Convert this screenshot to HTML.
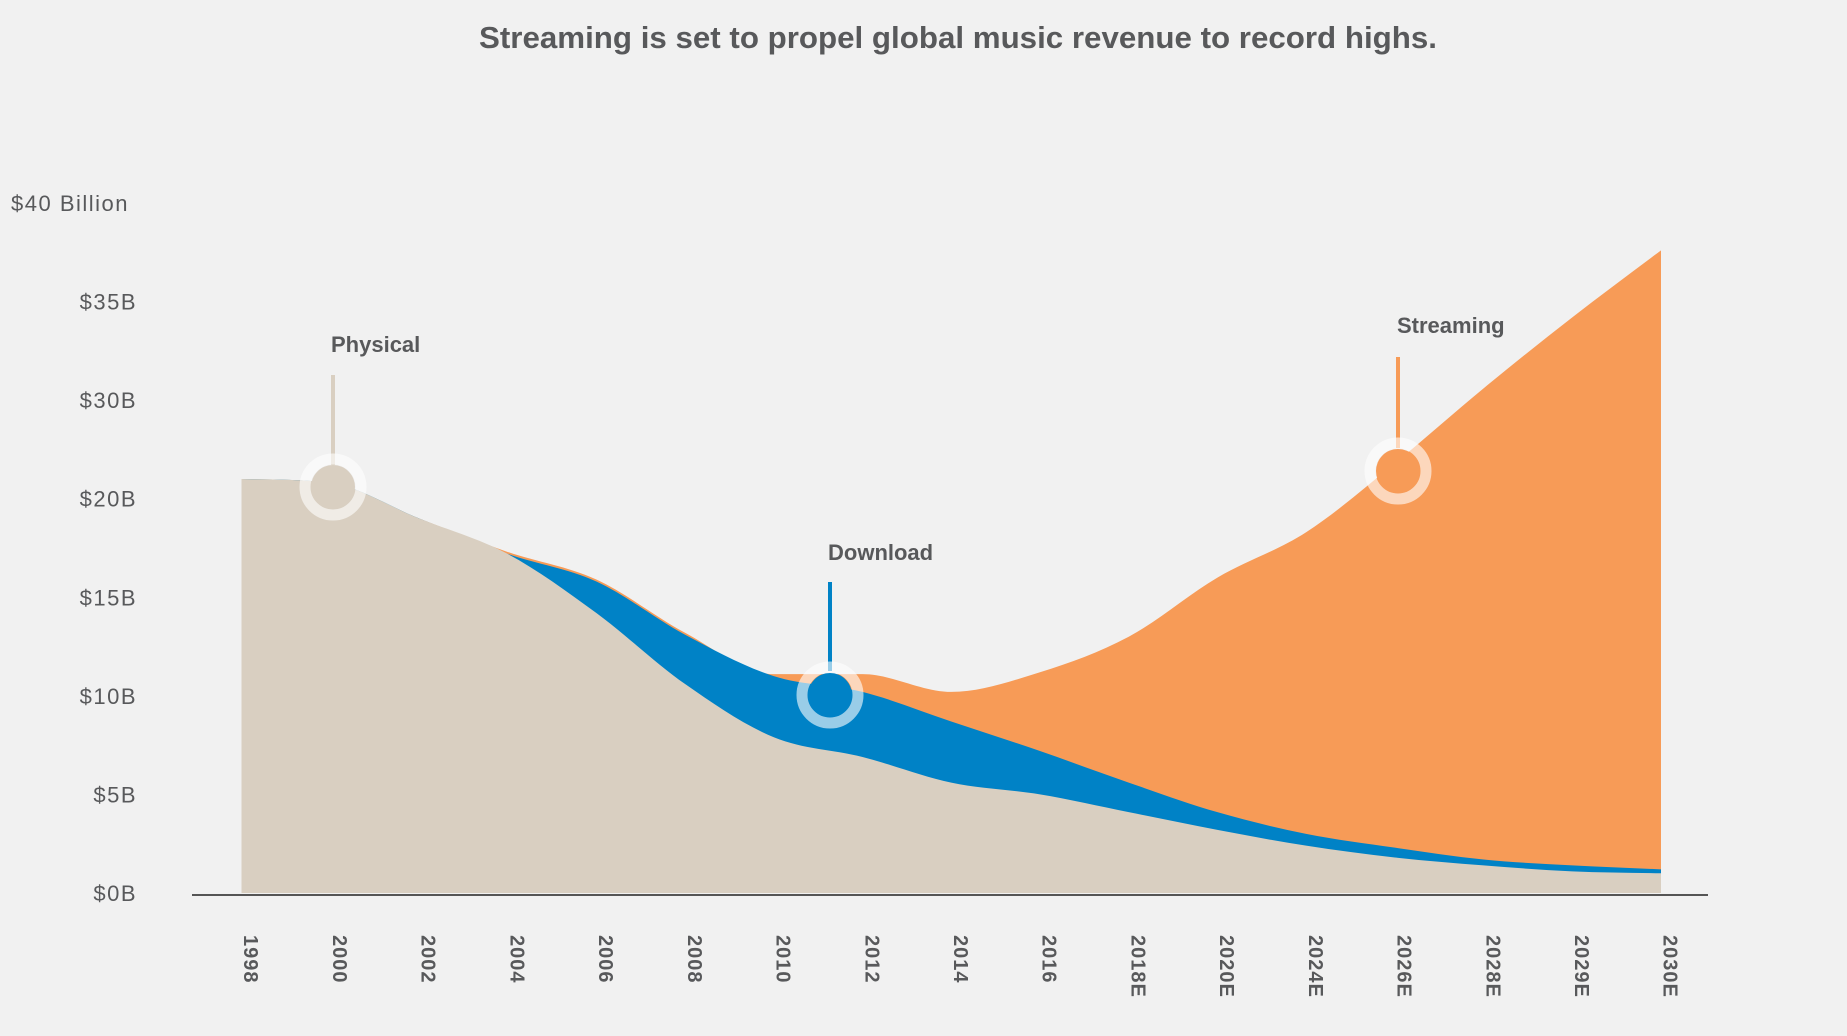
<!DOCTYPE html>
<html><head><meta charset="utf-8"><style>
html,body{margin:0;padding:0;background:#f1f1f1;}
svg{display:block;font-family:"Liberation Sans",sans-serif;}
</style></head><body>
<svg id="chart" width="1847" height="1036" viewBox="0 0 1847 1036">
<rect width="1847" height="1036" fill="#f1f1f1"/>
<text x="958" y="48" text-anchor="middle" font-size="31" font-weight="bold" fill="#58595b" textLength="958" lengthAdjust="spacingAndGlyphs">Streaming is set to propel global music revenue to record highs.</text>
<g id="areas"></g>
<g id="yaxis"></g>
<g id="xaxis"></g>
<g id="annot"></g>
</svg>
<script>
const categories=["1998","2000","2002","2004","2006","2008","2010","2012","2014","2016","2018E","2020E","2024E","2026E","2028E","2029E","2030E"];
const physical=[21.0,20.8,19.0,17.2,14.2,10.6,7.9,6.9,5.6,5.0,4.1,3.2,2.4,1.8,1.4,1.1,1.0];
const download=[0,0,0,0,1.6,2.5,3.1,3.3,3.1,2.2,1.5,0.9,0.6,0.5,0.3,0.3,0.2];
const streaming=[0,0,0,0.1,0.1,0.1,0.1,0.9,1.5,4.0,7.4,11.9,15.3,19.5,23.9,27.8,31.4];
const tickValues=[0,5,10,15,20,25,30,35];
const tickLabels=["$0B","$5B","$10B","$15B","$20B","$30B","$35B","$40 Billion"];

const NS="http://www.w3.org/2000/svg";
const X0=241.5,X1=1661,Y0=893,YTOP=203,VMAX=35;
function x(i){return X0+i*(X1-X0)/(categories.length-1);}
function y(v){return Y0-v*(Y0-YTOP)/VMAX;}
function mk(tag,attrs,parent){const e=document.createElementNS(NS,tag);for(const k in attrs)e.setAttribute(k,attrs[k]);parent.appendChild(e);return e;}
function monotone(px,py){
  const m=px.length,d=[],t=[];
  for(let i=0;i<m-1;i++)d.push((py[i+1]-py[i])/(px[i+1]-px[i]));
  for(let i=0;i<m;i++){
    if(i===0)t.push(d[0]);else if(i===m-1)t.push(d[m-2]);
    else t.push(d[i-1]*d[i]<=0?0:(d[i-1]+d[i])/2);
  }
  for(let i=0;i<m-1;i++){
    if(d[i]===0){t[i]=0;t[i+1]=0;continue;}
    const a=t[i]/d[i],b=t[i+1]/d[i],s=a*a+b*b;
    if(s>9){const k=3/Math.sqrt(s);t[i]=k*a*d[i];t[i+1]=k*b*d[i];}
  }
  let p='';
  for(let i=0;i<m-1;i++){
    const h=(px[i+1]-px[i])/3;
    p+='C'+(px[i]+h)+','+(py[i]+t[i]*h)+' '+(px[i+1]-h)+','+(py[i+1]-t[i+1]*h)+' '+px[i+1]+','+py[i+1];
  }
  return p;
}

const areas=document.getElementById('areas');
const n=categories.length;
const series=[[physical,'#d9cfc1','physical-area'],[download,'#0082c6','download-area'],[streaming,'#f79b57','streaming-area']];
const stacks=[];
let lower=new Array(n).fill(0);
for(const s of series){
  const upper=lower.map((v,i)=>v+s[0][i]);
  stacks.push([upper,s[1],s[2]]);
  lower=upper;
}
const pxs=categories.map((c,i)=>x(i));
for(let k=stacks.length-1;k>=0;k--){
  const [up,col,name]=stacks[k];
  const pys=up.map(v=>y(v));
  let d='M'+pxs[0]+','+pys[0]+monotone(pxs,pys);
  d+='L'+pxs[n-1]+','+y(0)+'L'+pxs[0]+','+y(0)+'Z';
  const p=mk('path',{d:d,fill:col},areas);
  
  
}

const ya=document.getElementById('yaxis');
tickValues.forEach((v,i)=>{
  const t=mk('text',{x:137,y:y(v)+8,'text-anchor':'end','font-size':22,fill:'#58595b','letter-spacing':'1.5'},ya);
  if(i===tickLabels.length-1){t.setAttribute('x',11);t.setAttribute('text-anchor','start');}
  t.textContent=tickLabels[i];
  
  
});

const xa=document.getElementById('xaxis');
const ax=mk('line',{x1:192,x2:1708,y1:895,y2:895,stroke:'#555','stroke-width':2},xa);


categories.forEach((c,i)=>{
  const cx=x(i)+8,cy=935;
  const t=mk('text',{x:cx,y:cy,transform:'rotate(90 '+cx+' '+cy+')','font-size':20,'font-weight':'bold',fill:'#58595b','dominant-baseline':'middle','letter-spacing':'1'},xa);
  t.textContent=c;
  
  
});

const an=document.getElementById('annot');
const notes=[["Physical",333,487,375,465,331,352,'#d9cfc1','physical-marker'],["Download",830,695,582,671,828,560,'#0082c6','download-marker'],["Streaming",1398,471,357,448,1397,333,'#f79b57','streaming-marker']];
notes.forEach(a=>{
  const g=mk('g',{},an);
  
  
  mk('line',{x1:a[1],x2:a[1],y1:a[3],y2:a[4],stroke:a[7],'stroke-width':4},g);
  mk('circle',{cx:a[1],cy:a[2],r:28,fill:'none',stroke:'rgba(255,255,255,0.6)','stroke-width':11},g);
  mk('circle',{cx:a[1],cy:a[2],r:22,fill:a[7]},g);
  const t=mk('text',{x:a[5],y:a[6],'font-size':22,'font-weight':'bold',fill:'#58595b'},g);
  t.textContent=a[0];
  
  
});
</script>
</body></html>
